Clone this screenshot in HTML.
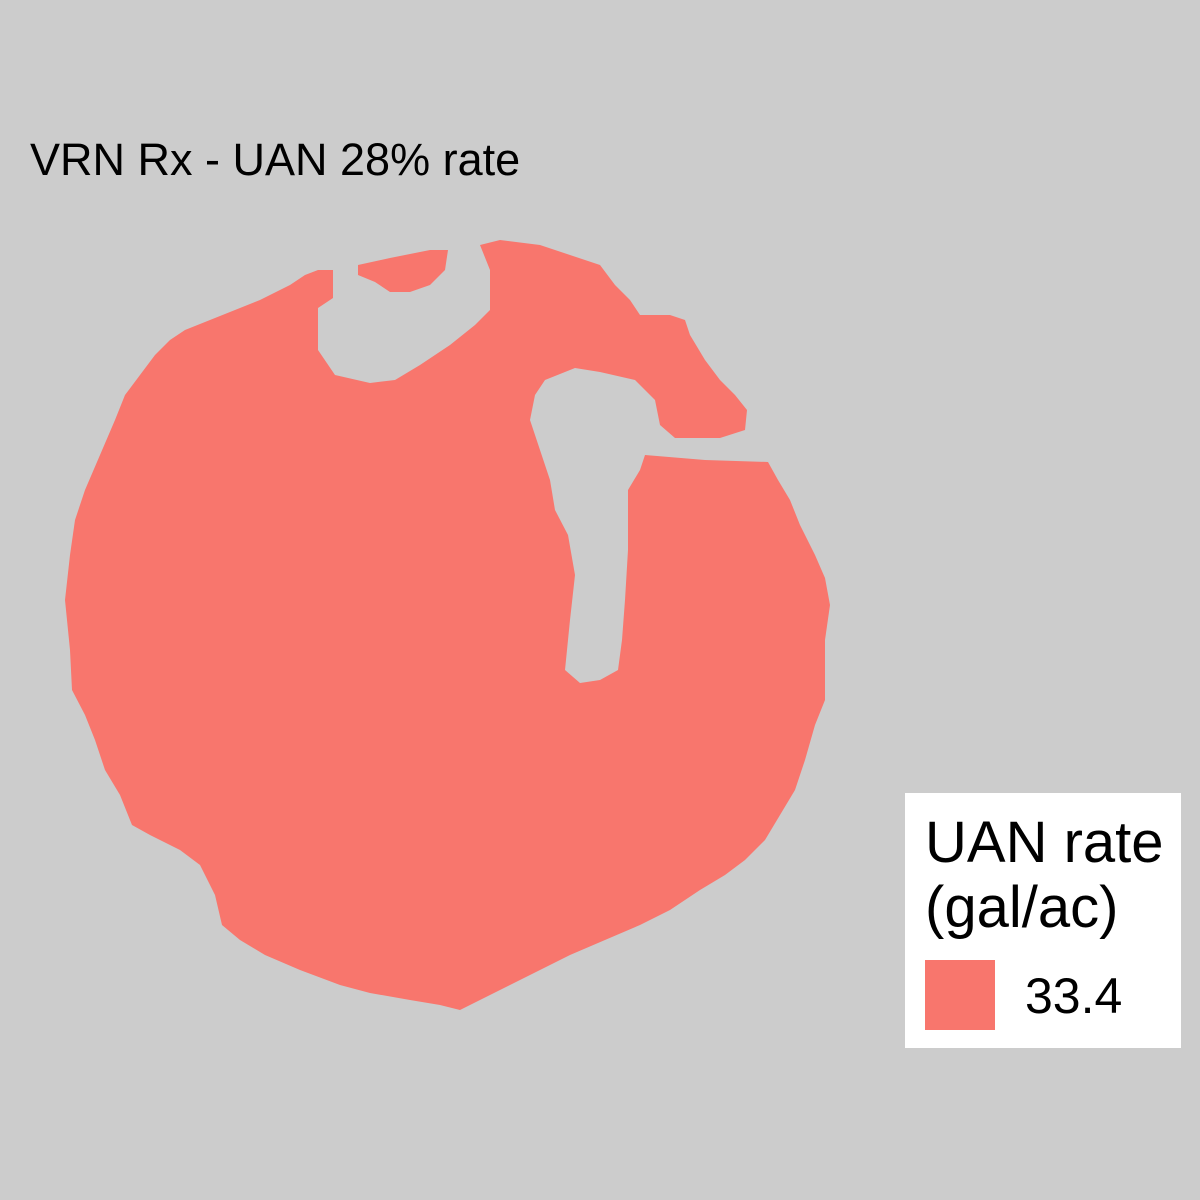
<!DOCTYPE html>
<html><head><meta charset="utf-8"><style>
html,body{margin:0;padding:0;background:#CCCCCC;}
svg{display:block;font-family:"Liberation Sans",Arial,sans-serif;}
</style></head><body>
<svg id="c" width="1200" height="1200" viewBox="0 0 1200 1200">
<rect width="1200" height="1200" fill="#CCCCCC"/>
<text x="30" y="175" font-size="45" fill="#000">VRN Rx - UAN 28% rate</text>
<g id="map"></g>
<rect x="905" y="793" width="276" height="255" fill="#fff"/>
<text x="925" y="862" font-size="58" fill="#000">UAN rate</text>
<text x="925" y="927" font-size="58" fill="#000">(gal/ac)</text>
<g id="legend"></g>
</svg>
<script>
const rateValues = [33.4];
const rateLabels = ["33.4"];
const rateColors = ["#F8766D"];
const mainOutline = [[318,270],[333,270],[333,298],[318,308],[318,350],[335,375],[370,383],[395,380],[420,365],[450,345],[475,325],[490,310],[490,270],[480,245],[500,240],[540,245],[570,255],[600,265],[615,285],[630,300],[640,315],[670,315],[685,320],[690,335],[705,360],[720,380],[735,395],[747,410],[745,430],[720,438],[675,438],[660,425],[655,400],[635,380],[600,372],[575,368],[545,380],[535,395],[530,420],[540,450],[550,480],[555,510],[568,535],[575,575],[570,620],[565,670],[580,683],[600,680],[618,670],[622,640],[625,600],[628,550],[628,490],[640,470],[645,455],[705,460],[768,462],[778,480],[790,500],[800,525],[815,555],[825,578],[830,605],[825,640],[825,700],[815,725],[805,760],[795,790],[780,815],[765,840],[745,860],[725,875],[700,890],[670,910],[640,925],[605,940],[570,955],[530,975],[490,995],[460,1010],[440,1005],[410,1000],[370,993],[340,985],[300,970],[265,955],[240,940],[222,925],[215,895],[200,865],[180,850],[150,835],[132,825],[120,795],[105,770],[95,740],[85,715],[72,690],[70,650],[65,600],[70,555],[75,520],[85,490],[100,455],[115,420],[125,395],[140,375],[155,355],[170,340],[185,330],[210,320],[235,310],[260,300],[290,285],[305,275]];
const islandOutline = [[358,265],[390,258],[430,250],[448,250],[445,270],[430,285],[410,292],[390,292],[375,282],[358,275]];
const NS="http://www.w3.org/2000/svg";
const map=document.getElementById('map');
[mainOutline,islandOutline].forEach(function(pts,i){
  const p=document.createElementNS(NS,'polygon');
  p.setAttribute('points',pts.map(function(q){return q.join(',');}).join(' '));
  p.setAttribute('fill',rateColors[0]);
  
  
  map.appendChild(p);
});
const lg=document.getElementById('legend');
rateValues.forEach(function(v,i){
  const r=document.createElementNS(NS,'rect');
  r.setAttribute('x',925);r.setAttribute('y',960+i*75);r.setAttribute('width',70);r.setAttribute('height',70);
  r.setAttribute('fill',rateColors[i]);
  
  
  lg.appendChild(r);
  const t=document.createElementNS(NS,'text');
  t.setAttribute('x',1025);t.setAttribute('y',1013+i*75);t.setAttribute('font-size','50');
  t.textContent=rateLabels[i];
  
  
  lg.appendChild(t);
});
</script>
</body></html>
